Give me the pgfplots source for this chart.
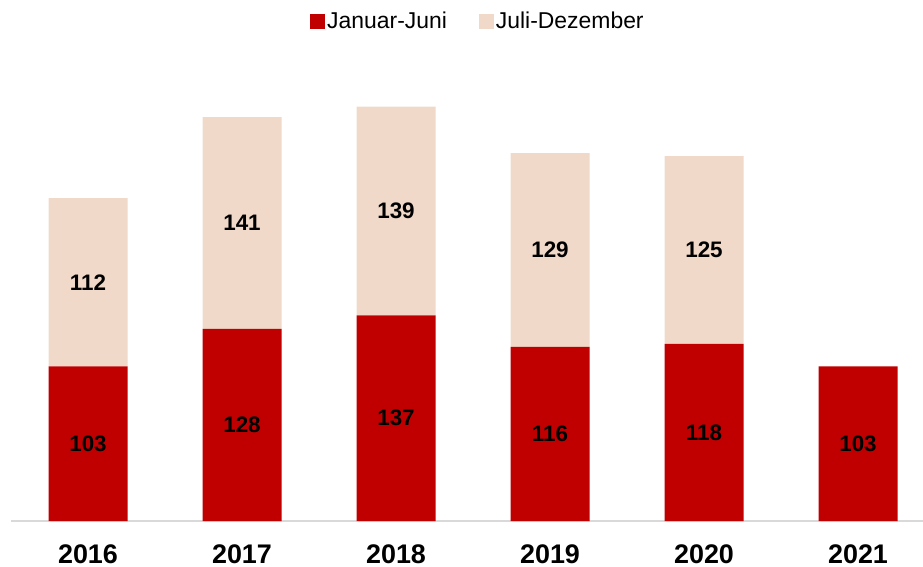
\documentclass[border=0pt]{standalone}
\usepackage{pgfplots}
\pgfplotsset{compat=1.18}
\usepackage{fontspec}
\setmainfont{Liberation Sans}
\definecolor{cRed}{RGB}{192,0,0}
\definecolor{cBeige}{RGB}{240,217,200}
\definecolor{cLine}{RGB}{217,217,217}
\begin{document}
\begin{tikzpicture}
\begin{axis}[
  at={(0,0)}, anchor=south west,
  scale only axis,
  width=912bp, height=521bp,
  xmin=-0.5, xmax=5.422,
  ymin=0, ymax=347,
  ybar stacked,
  bar width=79bp,
  axis x line=bottom,
  axis y line=none,
  axis line style={-, draw=cLine, line width=1.2pt},
  xtick={0,1,2,3,4,5},
  xticklabels={2016,2017,2018,2019,2020,2021},
  xtick style={draw=none},
  major tick length=0pt,
  ytick=\empty,
  xticklabel style={font=\bfseries\fontsize{27}{27}\selectfont, anchor=base, yshift=-42bp},
  /pgf/number format/assume math mode=true,
  nodes near coords,
  point meta=rawy,
  every node near coord/.append style={anchor=center, font=\bfseries\fontsize{22.5}{22.5}\selectfont, text=black},
  legend style={draw=none, fill=none, at={(0.512,0.985)}, anchor=north, legend columns=2,
     font=\fontsize{23}{23}\selectfont,
     /tikz/every even column/.append style={column sep=30bp},
     legend cell align=left},
  legend image code/.code={\fill[#1] (0bp,-7.5bp) rectangle (15bp,7.5bp);},
  clip=false,
]
\addplot[fill=cRed, draw=none] coordinates {(0,103) (1,128) (2,137) (3,116) (4,118) (5,103)};
\addplot[fill=cBeige, draw=none] coordinates {(0,112) (1,141) (2,139) (3,129) (4,125)};
\legend{Januar-Juni, Juli-Dezember}
\end{axis}
\pgfresetboundingbox
\useasboundingbox (-11bp,-46bp) rectangle (912bp,521bp);
\end{tikzpicture}
\end{document}
